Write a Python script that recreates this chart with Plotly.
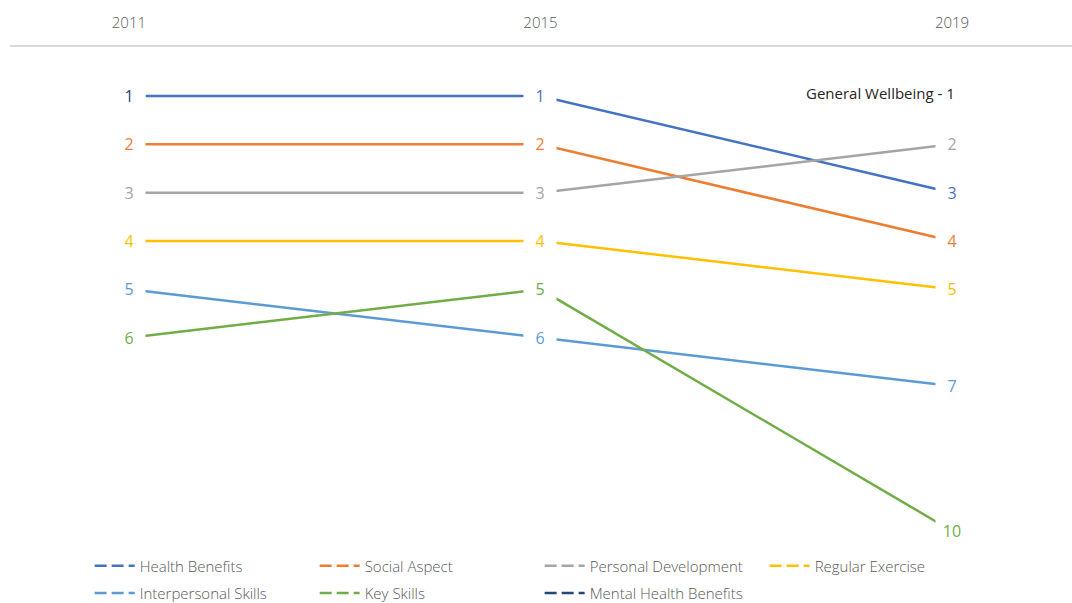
import plotly.graph_objects as go

years = ["2011", "2015", "2019"]
series_names = ["Health Benefits", "Social Aspect", "Personal Development", "Regular Exercise",
                "Interpersonal Skills", "Key Skills", "Mental Health Benefits"]
health_benefits = [1, 1, 3]
social_aspect = [2, 2, 4]
personal_development = [3, 3, 2]
regular_exercise = [4, 4, 5]
interpersonal_skills = [5, 6, 7]
key_skills = [6, 5, 10]
mental_health_benefits = [1, None, None]
colors = ["#4472C4", "#ED7D31", "#A5A5A5", "#FFC000", "#5B9BD5", "#70AD47", "#264478"]
note_text = "General Wellbeing - 1"

values = [health_benefits, social_aspect, personal_development, regular_exercise,
          interpersonal_skills, key_skills, mental_health_benefits]
xpos = list(range(len(years)))
FONT = "Open Sans"

fig = go.Figure()
for name, vals, col in zip(series_names, values, colors):
    fig.add_trace(go.Scatter(x=xpos, y=vals, mode="lines", line=dict(color=col, width=2.5),
                             showlegend=False, hoverinfo="skip", cliponaxis=False))
# legend entries (dashed symbol like the original), split over two rows
for i, (name, col) in enumerate(zip(series_names, colors)):
    fig.add_trace(go.Scatter(x=[None], y=[None], mode="lines", name=name,
                             legend="legend" if i < 4 else "legend2",
                             line=dict(color=col, width=2.5, dash="12px,5px")))

annotations = []
for name, vals, col in zip(series_names, values, colors):
    for xi, v in zip(xpos, vals):
        if v is None:
            continue
        annotations.append(dict(x=xi, y=v, xref="x", yref="y", text=str(v), showarrow=False,
                                font=dict(family=FONT, size=16, color=col),
                                bgcolor="white", width=28, height=20, borderpad=2,
                                xanchor="center", yanchor="middle"))
annotations.append(dict(x=2, y=1, xref="x", yref="y", text=note_text, showarrow=False,
                        xanchor="right", yanchor="middle", xshift=5, yshift=3,
                        font=dict(family=FONT, size=15, color="#262626")))

legend_common = dict(orientation="h", x=0.075, xanchor="left", yanchor="middle",
                     entrywidth=170, entrywidthmode="pixels", itemwidth=40,
                     bgcolor="rgba(0,0,0,0)",
                     font=dict(family=FONT, size=15, color="#595959", weight=300))

fig.update_layout(
    width=1072, height=603,
    margin=dict(l=10, r=0, t=47, b=58, autoexpand=False),
    paper_bgcolor="white", plot_bgcolor="white",
    annotations=annotations,
    xaxis=dict(range=[-0.289, 2.2916], side="top", tickvals=xpos, ticktext=years,
               showgrid=False, zeroline=False, showline=True, linecolor="#D9D9D9", linewidth=2,
               ticks="", ticklabelstandoff=11, automargin=False,
               tickfont=dict(family=FONT, size=15, color="#595959", weight=300)),
    yaxis=dict(range=[10.29, -0.014], visible=False, showgrid=False, zeroline=False,
               automargin=False),
    legend=dict(y=-0.0422, **legend_common),
    legend2=dict(y=-0.097, **legend_common),
    showlegend=True,
)

fig.write_html("out.html", config={"displayModeBar": False},
               post_script="document.body.style.margin='0';document.body.style.overflow='hidden';")
